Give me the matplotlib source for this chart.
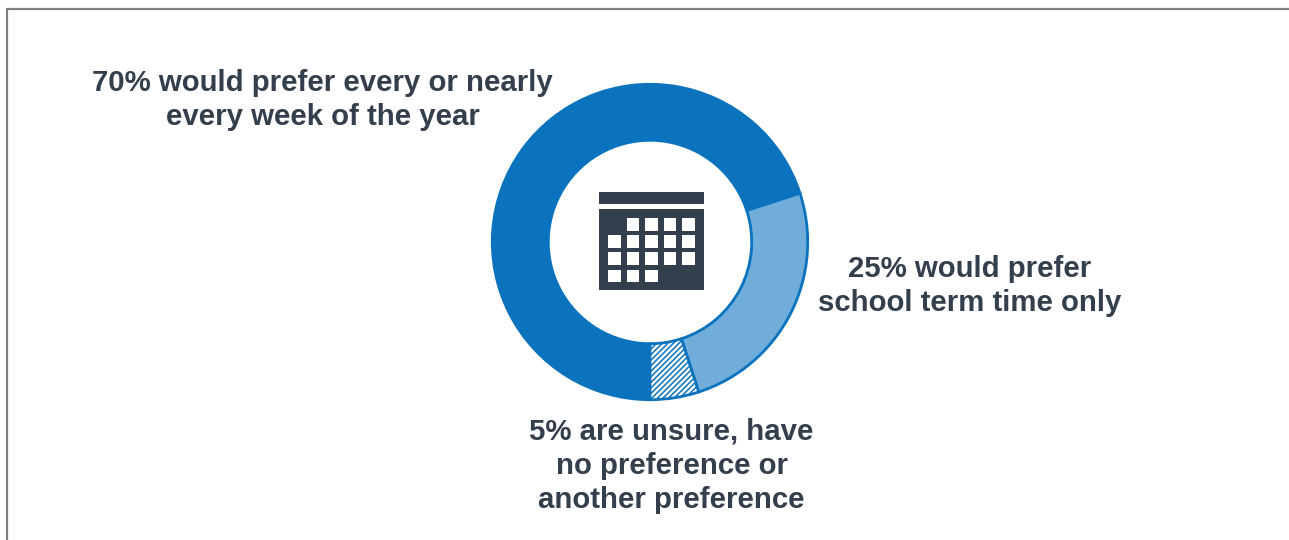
import matplotlib
matplotlib.use('Agg')
import matplotlib.pyplot as plt
from matplotlib.patches import Rectangle

# Share of respondents for each preference
categorias = ['every or nearly every week', 'school term time only', 'unsure or other']
valores = [70, 25, 5]

# Labels, one list of lines per group
rotulos = [
    ['70% would prefer every or nearly', 'every week of the year'],
    ['25% would prefer', 'school term time only'],
    ['5% are unsure, have', 'no preference or', 'another preference'],
]

AZUL = '#0B72BD'
AZUL_CLARO = '#70ADDB'
ESCURO = '#333F4C'
CINZA = '#808080'

plt.rcParams['hatch.linewidth'] = 1.1

L, H = 1289, 540
fig = plt.figure(figsize=(L / 100, H / 100), dpi=100)
ax = fig.add_axes([0, 0, 1, 1])

# the y axis is inverted, so counterclock=True runs clockwise on screen
# and the start angle is mirrored: 90 is straight down
fatias, _ = ax.pie(valores, center=(650, 242), radius=157.7, startangle=90,
                   counterclock=True, frame=True,
                   wedgeprops=dict(width=56, edgecolor=AZUL, linewidth=2))
ax.set_xlim(0, L)
ax.set_ylim(H, 0)
ax.set_aspect('equal')
ax.axis('off')

fatias[0].set_facecolor(AZUL)
fatias[1].set_facecolor(AZUL_CLARO)
fatias[2].set_facecolor('white')
fatias[2].set_hatch('//////')

# calendar icon in the middle of the ring
ax.add_patch(Rectangle((599, 192), 105, 11.5, color=ESCURO, lw=0))
ax.add_patch(Rectangle((599, 209), 105, 81, color=ESCURO, lw=0))
colunas = [608, 626.5, 645, 663.5, 682]
linhas = [218, 235, 252, 269.5]
dias = [[1, 2, 3, 4], [0, 1, 2, 3, 4], [0, 1, 2, 3, 4], [0, 1, 2]]
for y, cols in zip(linhas, dias):
    for c in cols:
        ax.add_patch(Rectangle((colunas[c], y), 12.5, 12.5, color='white', lw=0))

# group labels
posicoes = [(322.5, [83, 117]), (969.5, [269, 303]), (671.5, [431.5, 465.5, 499.5])]
for (x, ys), linhas_txt in zip(posicoes, rotulos):
    for y, t in zip(ys, linhas_txt):
        ax.text(x, y, t, ha='center', va='center', fontsize=21.2,
                fontweight='bold', family='Liberation Sans', color=ESCURO)

# thin frame, only left and top are visible
ax.plot([7, 7, L], [H, 9, 9], color=CINZA, lw=1.6, solid_joinstyle='miter')

fig.savefig('out.png', dpi=100)
